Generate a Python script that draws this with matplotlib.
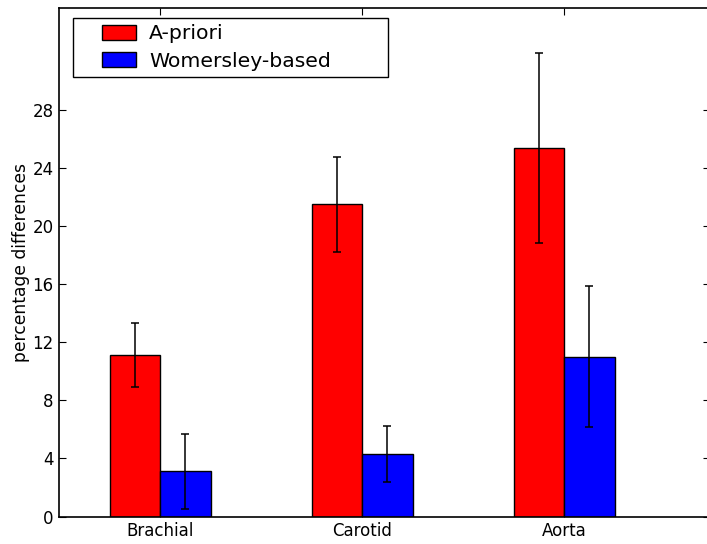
import numpy as np
import matplotlib
matplotlib.use('Agg')
import matplotlib.pyplot as plt
from matplotlib.patches import Rectangle
from matplotlib.container import BarContainer
from matplotlib.legend_handler import HandlerPatch, update_from_first_child

# data
categories = ['Brachial', 'Carotid', 'Aorta']
apriori = [11.1, 21.5, 25.4]
apriori_err = [2.2, 3.25, 6.55]
womersley = [3.1, 4.3, 11.0]
womersley_err = [2.6, 1.95, 4.85]
yticks = [0, 4, 8, 12, 16, 20, 24, 28]

W, H = 707, 544
fig = plt.figure(figsize=(W / 100, H / 100), dpi=100)
left, right, bottom, top = 59.3, 709.5, 516.5, 8.3
ax = fig.add_axes([left / W, (H - bottom) / H, (right - left) / W, (bottom - top) / H])

x = np.arange(len(categories))
width = 0.25
ekw = dict(ecolor='black', elinewidth=1.1, capsize=3.2, capthick=1.1)
ax.bar(x - width / 2, apriori, width, yerr=apriori_err, color='red',
       edgecolor='black', linewidth=1, label='A-priori', error_kw=ekw)
ax.bar(x + width / 2, womersley, width, yerr=womersley_err, color='blue',
       edgecolor='black', linewidth=1, label='Womersley-based', error_kw=ekw)

ax.set_xlim(-0.5, -0.5 + (right - left) / 201.9)
ax.set_ylim(0, 35)
ax.set_xticks(x)
ax.set_xticklabels(categories)
ax.set_yticks(yticks)
ax.tick_params(direction='in', top=True, right=True, length=5, width=0.8,
               labelsize=12, pad=4)
ax.set_ylabel('percentage differences', fontsize=12.3, labelpad=1.5)
for s in ax.spines.values():
    s.set_linewidth(1.2)


# legend patch only fills the right part of the handle box
def short_patch(legend, orig_handle, xdescent, ydescent, width, height, fontsize):
    w2 = width * 0.6
    return Rectangle((-xdescent + width - w2, -ydescent), w2, height)


fs = 14.7
x0 = (72.7 - left) / (right - left)
y0 = (bottom - 18.3) / (bottom - top)
wl = (388.3 - 72.7) / (right - left)
leg = ax.legend(loc='upper left', bbox_to_anchor=(x0, y0 - 0.2, wl, 0.2),
                mode='expand', borderaxespad=0, fontsize=fs, borderpad=0.3,
                handlelength=2.8, handleheight=0.78, handletextpad=0.65,
                labelspacing=0.4, fancybox=False, framealpha=1,
                handler_map={BarContainer: HandlerPatch(patch_func=short_patch,
                                                        update_func=update_from_first_child)})
leg.get_frame().set_edgecolor('black')
leg.get_frame().set_linewidth(1.0)

fig.savefig('out.png', dpi=100)
